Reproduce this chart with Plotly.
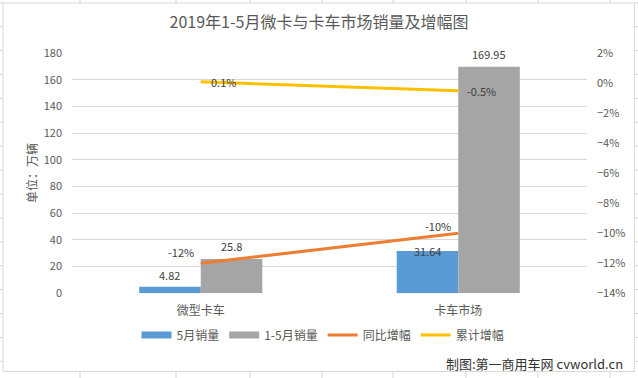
import plotly.graph_objects as go

W, H = 638, 378

categories = ["微型卡车", "卡车市场"]
may_sales = [4.82, 31.64]
jan_may_sales = [25.8, 169.95]
yoy_growth = [-0.12, -0.10]
cum_growth = [0.001, -0.005]

series_names = ["5月销量", "1-5月销量", "同比增幅", "累计增幅"]
colors = ["#5B9BD5", "#A5A5A5", "#ED7D31", "#FFC000"]

title_text = "2019年1-5月微卡与卡车市场销量及增幅图"
y_title = "单位：万辆"
credit = "制图:第一商用车网 cvworld.cn"

FONT = "Noto Sans CJK SC"
TXT = "#595959"
LBL = "#404040"


def px(x):
    return x / W


def py(y):
    return 1 - y / H


fig = go.Figure()

fig.add_trace(go.Bar(x=categories, y=may_sales, marker_color=colors[0],
                     name=series_names[0], showlegend=False))
fig.add_trace(go.Bar(x=categories, y=jan_may_sales, marker_color=colors[1],
                     name=series_names[1], showlegend=False))
fig.add_trace(go.Scatter(x=categories, y=yoy_growth, mode="lines", yaxis="y2",
                         line=dict(color=colors[2], width=3),
                         name=series_names[2], showlegend=False))
fig.add_trace(go.Scatter(x=categories, y=cum_growth, mode="lines", yaxis="y2",
                         line=dict(color=colors[3], width=3),
                         name=series_names[3], showlegend=False))

# legend entries (Excel-style swatches)
for i, nm in enumerate(series_names):
    fig.add_trace(go.Scatter(x=[None], y=[None], mode="lines", name=nm,
                             line=dict(color=colors[i], width=7 if i < 2 else 3)))

annotations = []
# data labels
for i, c in enumerate(categories):
    annotations.append(dict(x=c, y=may_sales[i], xref="x", yref="y",
                            text=f"{may_sales[i]:g}", showarrow=False,
                            xshift=-31, yshift=12 if i == 0 else 0,
                            font=dict(size=11, color=LBL, family=FONT)))
    annotations.append(dict(x=c, y=jan_may_sales[i], xref="x", yref="y",
                            text=f"{jan_may_sales[i]:g}", showarrow=False,
                            xshift=31, yshift=13,
                            font=dict(size=11, color=LBL, family=FONT)))
    annotations.append(dict(x=c, y=yoy_growth[i], xref="x", yref="y2",
                            text=f"{yoy_growth[i]*100:.0f}%", showarrow=False,
                            xshift=-20, yshift=11 if i == 0 else 7,
                            font=dict(size=11, color=LBL, family=FONT)))
    annotations.append(dict(x=c, y=cum_growth[i], xref="x", yref="y2",
                            text=f"{cum_growth[i]*100:.1f}%", showarrow=False,
                            xshift=23, yshift=0,
                            font=dict(size=11, color=LBL, family=FONT)))

annotations.append(dict(x=px(31), y=py(173), xref="paper", yref="paper",
                        xanchor="center", yanchor="middle",
                        text=y_title, textangle=-90, showarrow=False,
                        font=dict(size=12, color=TXT, family=FONT)))
annotations.append(dict(x=px(625), y=py(363), xref="paper", yref="paper",
                        xanchor="right", yanchor="middle",
                        text=credit, showarrow=False,
                        font=dict(size=13, color="#333333", family=FONT)))

shapes = []
cell = "#D4D4D4"
shapes.append(dict(type="rect", xref="paper", yref="paper",
                   x0=px(3), x1=px(634.5), y0=py(371.5), y1=py(3),
                   line=dict(color="#D9D9D9", width=1)))
for xc in [80, 176, 250, 322, 393, 466, 538, 610]:
    shapes.append(dict(type="line", xref="paper", yref="paper",
                       x0=px(xc), x1=px(xc), y0=py(0), y1=py(3),
                       line=dict(color=cell, width=1)))
    shapes.append(dict(type="line", xref="paper", yref="paper",
                       x0=px(xc), x1=px(xc), y0=py(372), y1=py(378),
                       line=dict(color=cell, width=1)))
for k in range(16):
    yc = 2.8 + 23.9 * k
    shapes.append(dict(type="line", xref="paper", yref="paper",
                       x0=px(0), x1=px(3), y0=py(yc), y1=py(yc),
                       line=dict(color=cell, width=1)))
    shapes.append(dict(type="line", xref="paper", yref="paper",
                       x0=px(635), x1=px(638), y0=py(yc), y1=py(yc),
                       line=dict(color=cell, width=1)))

fig.update_layout(
    template="none",
    width=W, height=H, autosize=False,
    margin=dict(l=0, r=0, t=0, b=0, pad=0, autoexpand=False),
    paper_bgcolor="white", plot_bgcolor="white",
    font=dict(family=FONT, color=TXT, size=12),
    title=dict(text=title_text, x=0.5, xanchor="center",
               y=py(22), yanchor="middle", automargin=False,
               font=dict(size=16, color=TXT, family=FONT)),
    barmode="group", bargap=0.522, bargroupgap=0,
    xaxis=dict(domain=[px(72), px(587)], type="category", automargin=False,
               showgrid=False, showline=False, zeroline=False, ticks="",
               ticklabelstandoff=9,
               tickfont=dict(size=12, color=TXT, family=FONT)),
    yaxis=dict(domain=[py(293.3), py(53.3)], range=[0, 180], dtick=20,
               automargin=False,
               showgrid=True, gridcolor="#D9D9D9", gridwidth=1,
               zeroline=False, showline=False, ticks="",
               ticklabelstandoff=9,
               tickfont=dict(size=11, color=TXT, family=FONT)),
    yaxis2=dict(overlaying="y", side="right", range=[-0.14, 0.02],
                dtick=0.02, tickformat=".0%", showgrid=False, automargin=False,
                zeroline=False, showline=False, ticks="",
                ticklabelstandoff=9, anchor="x",
                tickfont=dict(size=11, color=TXT, family=FONT)),
    legend=dict(orientation="h", x=px(323), xanchor="center",
                y=py(335), yanchor="middle",
                font=dict(size=12, color=TXT, family=FONT),
                bgcolor="rgba(0,0,0,0)", itemwidth=30),
    annotations=annotations,
    shapes=shapes,
)

fig.write_html("out.html",
               config={"displayModeBar": False},
               post_script="document.body.style.margin='0';"
                           "document.body.style.overflow='hidden';")
